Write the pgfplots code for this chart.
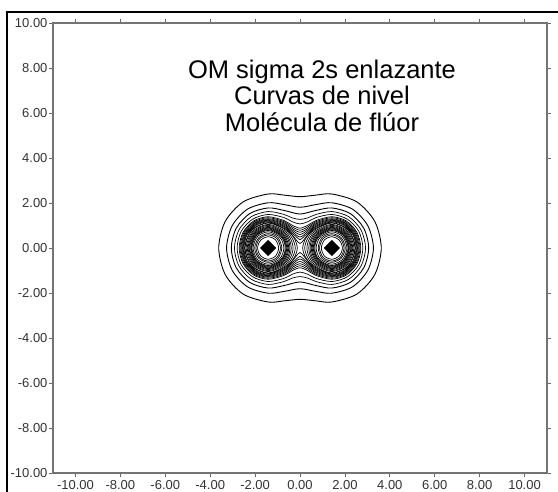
\documentclass[border=0pt]{standalone}
\usepackage{fontspec}
\setmainfont{Liberation Sans}
\usepackage{pgfplots}
\pgfplotsset{compat=1.18}
\pgfplotsset{
  outer/.style={black, line width=0.9pt, smooth cycle, mark=none},
  inner/.style={black, line width=0.7pt, smooth cycle, mark=none},
}
\begin{document}
\begin{tikzpicture}
\path[use as bounding box] (0,0) rectangle (558pt,492pt);
\draw[black, line width=1.3pt] (7pt,0) -- (7pt,480pt) -- (558pt,480pt);
\begin{axis}[
  at={(53pt,19pt)}, anchor=south west,
  scale only axis, width=494pt, height=450pt,
  xmin=-11, xmax=11, ymin=-10, ymax=10,
  xtick={-10,-8,...,10}, ytick={-10,-8,...,10},
  tick align=outside, tick pos=both,
  major tick length=4pt,
  axis line style={draw=black!55, line width=1.3pt},
  tick style={draw=black!60, line width=0.8pt},
  tick label style={font=\fontsize{13}{13}\selectfont, text=black!80},
  yticklabel style={xshift=2pt},
  /pgf/number format/.cd, fixed, fixed zerofill, precision=2, assume math mode=true,
]
% level curves enclosing both nuclei
\addplot[outer] coordinates {(3.62,0) (3.33,1.18) (2.53,2.05) (1.42,2.40) (0.71,2.35) (0,2.28) (-0.71,2.35) (-1.42,2.40) (-2.53,2.05) (-3.33,1.18) (-3.62,0) (-3.33,-1.18) (-2.53,-2.05) (-1.42,-2.40) (-0.71,-2.35) (0,-2.28) (0.71,-2.35) (1.42,-2.40) (2.53,-2.05) (3.33,-1.18)};
\addplot[outer] coordinates {(3.27,0) (3.02,0.99) (2.35,1.72) (1.42,2.01) (0.71,1.93) (0,1.81) (-0.71,1.93) (-1.42,2.01) (-2.35,1.72) (-3.02,0.99) (-3.27,0) (-3.02,-0.99) (-2.35,-1.72) (-1.42,-2.01) (-0.71,-1.93) (0,-1.81) (0.71,-1.93) (1.42,-2.01) (2.35,-1.72) (3.02,-0.99)};
\addplot[outer] coordinates {(3.06,0) (2.84,0.88) (2.24,1.53) (1.42,1.78) (0.71,1.67) (0,1.51) (-0.71,1.67) (-1.42,1.78) (-2.24,1.53) (-2.84,0.88) (-3.06,0) (-2.84,-0.88) (-2.24,-1.53) (-1.42,-1.78) (-0.71,-1.67) (0,-1.51) (0.71,-1.67) (1.42,-1.78) (2.24,-1.53) (2.84,-0.88)};
\addplot[inner] coordinates {(2.92,0) (2.72,0.80) (2.17,1.39) (1.42,1.62) (0.71,1.49) (0.35,1.34) (0,1.27) (-0.35,1.34) (-0.71,1.49) (-1.42,1.62) (-2.17,1.39) (-2.72,0.80) (-2.92,0) (-2.72,-0.80) (-2.17,-1.39) (-1.42,-1.62) (-0.71,-1.49) (-0.35,-1.34) (0,-1.27) (0.35,-1.34) (0.71,-1.49) (1.42,-1.62) (2.17,-1.39) (2.72,-0.80)};
\addplot[inner] coordinates {(2.80,0) (2.62,0.74) (2.11,1.28) (1.42,1.49) (0.71,1.35) (0.35,1.17) (0,1.07) (-0.35,1.17) (-0.71,1.35) (-1.42,1.49) (-2.11,1.28) (-2.62,0.74) (-2.80,0) (-2.62,-0.74) (-2.11,-1.28) (-1.42,-1.49) (-0.71,-1.35) (-0.35,-1.17) (0,-1.07) (0.35,-1.17) (0.71,-1.35) (1.42,-1.49) (2.11,-1.28) (2.62,-0.74)};
\addplot[inner] coordinates {(2.71,0) (2.54,0.69) (2.07,1.20) (1.42,1.39) (0.71,1.22) (0.35,1.01) (0,0.88) (-0.35,1.01) (-0.71,1.22) (-1.42,1.39) (-2.07,1.20) (-2.54,0.69) (-2.71,0) (-2.54,-0.69) (-2.07,-1.20) (-1.42,-1.39) (-0.71,-1.22) (-0.35,-1.01) (0,-0.88) (0.35,-1.01) (0.71,-1.22) (1.42,-1.39) (2.07,-1.20) (2.54,-0.69)};
\addplot[inner] coordinates {(2.67,0) (2.505,0.67) (2.05,1.16) (1.42,1.345) (0.71,1.17) (0.35,0.94) (0,0.79) (-0.35,0.94) (-0.71,1.17) (-1.42,1.345) (-2.05,1.16) (-2.505,0.67) (-2.67,0) (-2.505,-0.67) (-2.05,-1.16) (-1.42,-1.345) (-0.71,-1.17) (-0.35,-0.94) (0,-0.79) (0.35,-0.94) (0.71,-1.17) (1.42,-1.345) (2.05,-1.16) (2.505,-0.67)};
\addplot[inner] coordinates {(2.63,0) (2.47,0.65) (2.03,1.12) (1.42,1.30) (0.71,1.12) (0.35,0.87) (0,0.70) (-0.35,0.87) (-0.71,1.12) (-1.42,1.30) (-2.03,1.12) (-2.47,0.65) (-2.63,0) (-2.47,-0.65) (-2.03,-1.12) (-1.42,-1.30) (-0.71,-1.12) (-0.35,-0.87) (0,-0.70) (0.35,-0.87) (0.71,-1.12) (1.42,-1.30) (2.03,-1.12) (2.47,-0.65)};
\addplot[inner] coordinates {(2.595,0) (2.44,0.63) (2.01,1.09) (1.42,1.265) (0.71,1.07) (0.35,0.80) (0,0.60) (-0.35,0.80) (-0.71,1.07) (-1.42,1.265) (-2.01,1.09) (-2.44,0.63) (-2.595,0) (-2.44,-0.63) (-2.01,-1.09) (-1.42,-1.265) (-0.71,-1.07) (-0.35,-0.80) (0,-0.60) (0.35,-0.80) (0.71,-1.07) (1.42,-1.265) (2.01,-1.09) (2.44,-0.63)};
\addplot[inner] coordinates {(2.56,0) (2.41,0.61) (1.99,1.06) (1.42,1.23) (0.71,1.02) (0.35,0.73) (0,0.49) (-0.35,0.73) (-0.71,1.02) (-1.42,1.23) (-1.99,1.06) (-2.41,0.61) (-2.56,0) (-2.41,-0.61) (-1.99,-1.06) (-1.42,-1.23) (-0.71,-1.02) (-0.35,-0.73) (0,-0.49) (0.35,-0.73) (0.71,-1.02) (1.42,-1.23) (1.99,-1.06) (2.41,-0.61)};
\addplot[inner] coordinates {(2.53,0) (2.385,0.595) (1.975,1.03) (1.42,1.195) (0.71,0.975) (0.35,0.66) (0.17,0.50) (0,0.37) (-0.17,0.50) (-0.35,0.66) (-0.71,0.975) (-1.42,1.195) (-1.975,1.03) (-2.385,0.595) (-2.53,0) (-2.385,-0.595) (-1.975,-1.03) (-1.42,-1.195) (-0.71,-0.975) (-0.35,-0.66) (-0.17,-0.50) (0,-0.37) (0.17,-0.50) (0.35,-0.66) (0.71,-0.975) (1.42,-1.195) (1.975,-1.03) (2.385,-0.595)};
\addplot[inner] coordinates {(2.50,0) (2.36,0.58) (1.96,1.00) (1.42,1.16) (0.71,0.93) (0.35,0.59) (0.17,0.36) (0,0.20) (-0.17,0.36) (-0.35,0.59) (-0.71,0.93) (-1.42,1.16) (-1.96,1.00) (-2.36,0.58) (-2.50,0) (-2.36,-0.58) (-1.96,-1.00) (-1.42,-1.16) (-0.71,-0.93) (-0.35,-0.59) (-0.17,-0.36) (0,-0.20) (0.17,-0.36) (0.35,-0.59) (0.71,-0.93) (1.42,-1.16) (1.96,-1.00) (2.36,-0.58)};
% level curves around the right nucleus
\addplot[inner] coordinates {(2.47,0) (2.16,0.79) (1.42,1.13) (0.64,0.84) (0.27,0.45) (0.12,0) (0.27,-0.45) (0.64,-0.84) (1.42,-1.13) (2.16,-0.79)};
\addplot[inner] coordinates {(2.45,0) (2.15,0.78) (1.42,1.11) (0.66,0.81) (0.34,0.42) (0.21,0) (0.34,-0.42) (0.66,-0.81) (1.42,-1.11) (2.15,-0.78)};
\addplot[inner] coordinates {(2.40,0) (2.11,0.74) (1.42,1.05) (0.70,0.77) (0.41,0.39) (0.31,0) (0.41,-0.39) (0.70,-0.77) (1.42,-1.05) (2.11,-0.74)};
\addplot[inner] coordinates {(2.35,0) (2.08,0.71) (1.42,1.01) (0.74,0.73) (0.47,0.37) (0.39,0) (0.47,-0.37) (0.74,-0.73) (1.42,-1.01) (2.08,-0.71)};
\addplot[inner] coordinates {(2.31,0) (2.05,0.68) (1.42,0.96) (0.77,0.70) (0.52,0.35) (0.45,0) (0.52,-0.35) (0.77,-0.70) (1.42,-0.96) (2.05,-0.68)};
\addplot[inner] coordinates {(2.27,0) (2.02,0.65) (1.42,0.92) (0.80,0.67) (0.57,0.33) (0.50,0) (0.57,-0.33) (0.80,-0.67) (1.42,-0.92) (2.02,-0.65)};
\addplot[inner] coordinates {(2.24,0) (2.00,0.62) (1.42,0.885) (0.825,0.64) (0.61,0.315) (0.545,0) (0.61,-0.315) (0.825,-0.64) (1.42,-0.885) (2.00,-0.62)};
\addplot[inner] coordinates {(2.20,0) (1.98,0.59) (1.42,0.85) (0.85,0.61) (0.65,0.30) (0.59,0) (0.65,-0.30) (0.85,-0.61) (1.42,-0.85) (1.98,-0.59)};
\addplot[inner] coordinates {(2.17,0) (1.955,0.57) (1.42,0.815) (0.875,0.585) (0.68,0.29) (0.625,0) (0.68,-0.29) (0.875,-0.585) (1.42,-0.815) (1.955,-0.57)};
\addplot[inner] coordinates {(2.14,0) (1.93,0.55) (1.42,0.78) (0.90,0.56) (0.71,0.28) (0.66,0) (0.71,-0.28) (0.90,-0.56) (1.42,-0.78) (1.93,-0.55)};
\addplot[inner] coordinates {(2.09,0) (1.89,0.51) (1.42,0.72) (0.94,0.52) (0.77,0.25) (0.72,0) (0.77,-0.25) (0.94,-0.52) (1.42,-0.72) (1.89,-0.51)};
\addplot[inner] coordinates {(2.02,0) (1.84,0.45) (1.42,0.64) (0.99,0.47) (0.81,0) (0.99,-0.47) (1.42,-0.64) (1.84,-0.45)};
\addplot[inner] coordinates {(1.96,0) (1.80,0.41) (1.42,0.58) (1.03,0.42) (0.87,0) (1.03,-0.42) (1.42,-0.58) (1.80,-0.41)};
\addplot[inner] coordinates {(1.89,0) (1.75,0.35) (1.42,0.50) (1.09,0.36) (0.95,0) (1.09,-0.36) (1.42,-0.50) (1.75,-0.35)};
% level curves around the left nucleus
\addplot[inner] coordinates {(-2.47,0) (-2.16,0.79) (-1.42,1.13) (-0.64,0.84) (-0.27,0.45) (-0.12,0) (-0.27,-0.45) (-0.64,-0.84) (-1.42,-1.13) (-2.16,-0.79)};
\addplot[inner] coordinates {(-2.45,0) (-2.15,0.78) (-1.42,1.11) (-0.66,0.81) (-0.34,0.42) (-0.21,0) (-0.34,-0.42) (-0.66,-0.81) (-1.42,-1.11) (-2.15,-0.78)};
\addplot[inner] coordinates {(-2.40,0) (-2.11,0.74) (-1.42,1.05) (-0.70,0.77) (-0.41,0.39) (-0.31,0) (-0.41,-0.39) (-0.70,-0.77) (-1.42,-1.05) (-2.11,-0.74)};
\addplot[inner] coordinates {(-2.35,0) (-2.08,0.71) (-1.42,1.01) (-0.74,0.73) (-0.47,0.37) (-0.39,0) (-0.47,-0.37) (-0.74,-0.73) (-1.42,-1.01) (-2.08,-0.71)};
\addplot[inner] coordinates {(-2.31,0) (-2.05,0.68) (-1.42,0.96) (-0.77,0.70) (-0.52,0.35) (-0.45,0) (-0.52,-0.35) (-0.77,-0.70) (-1.42,-0.96) (-2.05,-0.68)};
\addplot[inner] coordinates {(-2.27,0) (-2.02,0.65) (-1.42,0.92) (-0.80,0.67) (-0.57,0.33) (-0.50,0) (-0.57,-0.33) (-0.80,-0.67) (-1.42,-0.92) (-2.02,-0.65)};
\addplot[inner] coordinates {(-2.24,0) (-2.00,0.62) (-1.42,0.885) (-0.825,0.64) (-0.61,0.315) (-0.545,0) (-0.61,-0.315) (-0.825,-0.64) (-1.42,-0.885) (-2.00,-0.62)};
\addplot[inner] coordinates {(-2.20,0) (-1.98,0.59) (-1.42,0.85) (-0.85,0.61) (-0.65,0.30) (-0.59,0) (-0.65,-0.30) (-0.85,-0.61) (-1.42,-0.85) (-1.98,-0.59)};
\addplot[inner] coordinates {(-2.17,0) (-1.955,0.57) (-1.42,0.815) (-0.875,0.585) (-0.68,0.29) (-0.625,0) (-0.68,-0.29) (-0.875,-0.585) (-1.42,-0.815) (-1.955,-0.57)};
\addplot[inner] coordinates {(-2.14,0) (-1.93,0.55) (-1.42,0.78) (-0.90,0.56) (-0.71,0.28) (-0.66,0) (-0.71,-0.28) (-0.90,-0.56) (-1.42,-0.78) (-1.93,-0.55)};
\addplot[inner] coordinates {(-2.09,0) (-1.89,0.51) (-1.42,0.72) (-0.94,0.52) (-0.77,0.25) (-0.72,0) (-0.77,-0.25) (-0.94,-0.52) (-1.42,-0.72) (-1.89,-0.51)};
\addplot[inner] coordinates {(-2.02,0) (-1.84,0.45) (-1.42,0.64) (-0.99,0.47) (-0.81,0) (-0.99,-0.47) (-1.42,-0.64) (-1.84,-0.45)};
\addplot[inner] coordinates {(-1.96,0) (-1.80,0.41) (-1.42,0.58) (-1.03,0.42) (-0.87,0) (-1.03,-0.42) (-1.42,-0.58) (-1.80,-0.41)};
\addplot[inner] coordinates {(-1.89,0) (-1.75,0.35) (-1.42,0.50) (-1.09,0.36) (-0.95,0) (-1.09,-0.36) (-1.42,-0.50) (-1.75,-0.35)};
% innermost levels merge at the nuclei
\addplot[only marks, mark=square*, mark size=5.4pt, mark options={rotate=45, fill=black, draw=black}] coordinates {(-1.42,0) (1.42,0)};
\end{axis}
\node[anchor=base, font=\fontsize{25.5}{27}\selectfont] at (322pt,413pt) {OM sigma 2s enlazante};
\node[anchor=base, font=\fontsize{25.5}{27}\selectfont] at (322pt,387pt) {Curvas de nivel};
\node[anchor=base, font=\fontsize{25.5}{27}\selectfont] at (322pt,360pt) {Molécula de flúor};
\end{tikzpicture}
\end{document}
